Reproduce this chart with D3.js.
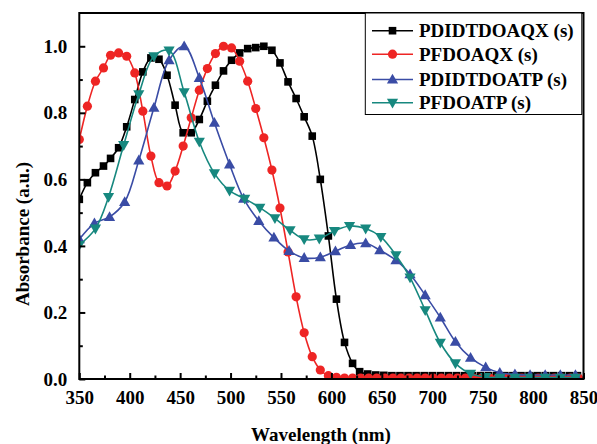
<!DOCTYPE html>
<html><head><meta charset="utf-8">
<script src="https://cdn.jsdelivr.net/npm/d3@7/dist/d3.min.js"></script>
<style>html,body{margin:0;padding:0;background:#fff;}svg{display:block;}</style>
</head><body>
<svg id="chart" width="597" height="444"></svg>
<script>
// ---- data ----
const seriesNames = ["PDIDTDOAQX (s)", "PFDOAQX (s)", "PDIDTDOATP (s)", "PFDOATP (s)"];
const blackX = [350,358,366,374,381,389,397,405,413,421,429,437,445,453,461,469,477,485,493,501,509,517,525,533,541,549,557,565,573,581,589,597,605,613,621,628,
  636,644,652,660,668,676,684,692,700,708,716,724,732,740,748,756,764,772,780,788,796,804,812,820,828,836,844];
const blackY = [0.54,0.59,0.62,0.64,0.663,0.695,0.758,0.84,0.923,0.965,0.961,0.913,0.823,0.74,0.74,0.78,0.835,0.883,0.926,0.958,0.98,0.993,0.996,1.0,0.988,0.95,0.893,0.843,0.788,0.73,0.60,0.43,0.24,0.11,0.047,0.022,
  0.015,0.012,0.011,0.01,0.01,0.01,0.01,0.01,0.01,0.01,0.01,0.01,0.01,0.01,0.01,0.01,0.01,0.01,0.01,0.01,0.01,0.01,0.01,0.01,0.01,0.01,0.01];
const redX = [350,358,366,374,381,389,397,405,413,421,429,437,445,453,461,469,477,485,493,501,509,517,525,533,541,549,557,565,573,581,589,597,605,613,
  621,629,637,645,653,661,669,677,685,693,701,709,717,725,733,741,749,757,765,773,781,789,797,805,813,821,829,837,845];
const redY = [0.72,0.82,0.895,0.935,0.973,0.98,0.97,0.92,0.805,0.67,0.59,0.58,0.625,0.70,0.785,0.868,0.933,0.978,1.0,0.995,0.955,0.895,0.813,0.725,0.628,0.514,0.382,0.247,0.139,0.067,0.027,0.01,0.005,0.003,
  0.003,0.003,0.003,0.003,0.003,0.003,0.003,0.003,0.003,0.003,0.003,0.003,0.003,0.003,0.003,0.003,0.003,0.003,0.003,0.003,0.003,0.003,0.003,0.003,0.003,0.003,0.003,0.003,0.003];
const blueX = [350,365,380,395,409,424,439,454,469,484,499,513,528,543,558,573,589,604,619,634,648,664,678,693,708,723,738,753,767,782,797,812,827,842];
const blueY = [0.42,0.468,0.487,0.532,0.657,0.815,0.958,1.0,0.905,0.77,0.645,0.542,0.475,0.425,0.385,0.364,0.366,0.384,0.403,0.408,0.387,0.357,0.315,0.252,0.185,0.112,0.064,0.035,0.019,0.014,0.012,0.012,0.012,0.012];
const tealX = [350,366,379,394,409,424,439,454,469,484,499,514,529,544,559,573,588,603,618,634,649,664,678,693,708,723,738,753,767,782,797,812,827,842];
const tealY = [0.403,0.452,0.547,0.703,0.856,0.97,0.987,0.862,0.713,0.618,0.566,0.542,0.515,0.483,0.447,0.42,0.422,0.445,0.46,0.452,0.427,0.372,0.305,0.207,0.109,0.047,0.016,0.006,0.004,0.004,0.004,0.004,0.004,0.004];
const xTicks = [350,400,450,500,550,600,650,700,750,800,850];
const yTicks = [0.0,0.2,0.4,0.6,0.8,1.0];
const xMinor = [375,425,475,525,575,625,675,725,775,825];
const yMinor = [0.1,0.3,0.5,0.7,0.9];
const colors = ["#000000", "#ee2524", "#3a4ca5", "#17887f"];
const shapes = ["square", "circle", "up", "down"];

// ---- layout ----
const svg = d3.select("#chart");
const L = 79.3, R = 583.5, T = 13, B = 379;
const x = d3.scaleLinear().domain([350, 850]).range([L, R]);
const y = d3.scaleLinear().domain([0, 1.1]).range([B, T]);
const FONT = "'Liberation Serif','Times New Roman',serif";

const series = [
  {name: seriesNames[0], xs: blackX, ys: blackY},
  {name: seriesNames[1], xs: redX, ys: redY},
  {name: seriesNames[2], xs: blueX, ys: blueY},
  {name: seriesNames[3], xs: tealX, ys: tealY}
].map((s, i) => ({...s, color: colors[i], shape: shapes[i], pts: s.xs.map((v, j) => [v, s.ys[j]])}));

svg.append("defs").append("clipPath").attr("id", "clip")
  .append("rect").attr("x", L).attr("y", T).attr("width", R - L).attr("height", B - T);

function marker(g, shape, color) {
  if (shape === "square") {
    g.append("rect").attr("x", -3.8).attr("y", -3.8).attr("width", 7.6).attr("height", 7.6).attr("fill", color);
  } else if (shape === "circle") {
    g.append("circle").attr("r", 4.6).attr("fill", color);
  } else if (shape === "up") {
    g.append("path").attr("d", "M0,-5.8L5.6,4L-5.6,4Z").attr("fill", color);
  } else {
    g.append("path").attr("d", "M0,5.8L5.6,-4L-5.6,-4Z").attr("fill", color);
  }
}

const plot = svg.append("g").attr("clip-path", "url(#clip)");
const line = d3.line().x(d => x(d[0])).y(d => y(d[1])).curve(d3.curveCatmullRom.alpha(0.5));
series.forEach(s => {
  const g = plot.append("g");
  g.append("path").attr("d", line(s.pts)).attr("fill", "none").attr("stroke", s.color).attr("stroke-width", 1.6);
  s.pts.forEach(p => {
    const m = g.append("g").attr("transform", `translate(${x(p[0])},${y(p[1])})`);
    marker(m, s.shape, s.color);
  });
});

// ---- axes ----
const ax = svg.append("g");
// box
ax.append("rect").attr("x", L).attr("y", T).attr("width", R - L).attr("height", B - T)
  .attr("fill", "none").attr("stroke", "#000").attr("stroke-width", 2);
// bottom axis
const xAxis = d3.axisBottom(x).tickValues(xTicks).tickSizeInner(-6).tickSizeOuter(0).tickPadding(12).tickFormat(d3.format("d"));
const gx = svg.append("g").attr("transform", `translate(0,${B})`).call(xAxis);
gx.select(".domain").remove();
gx.selectAll(".tick line").attr("stroke", "#000").attr("stroke-width", 2);
gx.selectAll(".tick text").attr("font-family", FONT).attr("font-weight", "bold").attr("font-size", 19).attr("fill", "#000");
const gxm = svg.append("g").attr("transform", `translate(0,${B})`)
  .call(d3.axisBottom(x).tickValues(xMinor).tickSizeInner(-3.5).tickSizeOuter(0).tickFormat(""));
gxm.select(".domain").remove();
gxm.selectAll(".tick line").attr("stroke", "#000").attr("stroke-width", 2);
// left axis
const yAxis = d3.axisLeft(y).tickValues(yTicks).tickSizeInner(-6).tickSizeOuter(0).tickPadding(12).tickFormat(d3.format(".1f"));
const gy = svg.append("g").attr("transform", `translate(${L},0)`).call(yAxis);
gy.select(".domain").remove();
gy.selectAll(".tick line").attr("stroke", "#000").attr("stroke-width", 2);
gy.selectAll(".tick text").attr("font-family", FONT).attr("font-weight", "bold").attr("font-size", 19).attr("fill", "#000");
const gym = svg.append("g").attr("transform", `translate(${L},0)`)
  .call(d3.axisLeft(y).tickValues(yMinor).tickSizeInner(-3.5).tickSizeOuter(0).tickFormat(""));
gym.select(".domain").remove();
gym.selectAll(".tick line").attr("stroke", "#000").attr("stroke-width", 2);

// titles
svg.append("text").attr("x", 321).attr("y", 441).attr("text-anchor", "middle")
  .attr("font-family", FONT).attr("font-weight", "bold").attr("font-size", 19).text("Wavelength (nm)");
svg.append("text").attr("transform", "translate(29,234) rotate(-90)").attr("text-anchor", "middle")
  .attr("font-family", FONT).attr("font-weight", "bold").attr("font-size", 19).text("Absorbance (a.u.)");

// ---- legend ----
const lg = svg.append("g");
lg.append("rect").attr("x", 365.3).attr("y", T).attr("width", 216.5).attr("height", 101.5)
  .attr("fill", "#fff").attr("stroke", "#000").attr("stroke-width", 1);
const legY = [30.7, 54.2, 79.5, 102.7];
series.forEach((s, i) => {
  const yy = legY[i];
  lg.append("line").attr("x1", 372).attr("x2", 413).attr("y1", yy).attr("y2", yy).attr("stroke", s.color).attr("stroke-width", 1.6);
  marker(lg.append("g").attr("transform", `translate(392.5,${yy})`), s.shape, s.color);
  lg.append("text").attr("x", 419).attr("y", yy + 6.6).attr("font-family", FONT).attr("font-weight", "bold")
    .attr("font-size", 19).attr("fill", "#000").text(s.name);
});
</script>
</body></html>
